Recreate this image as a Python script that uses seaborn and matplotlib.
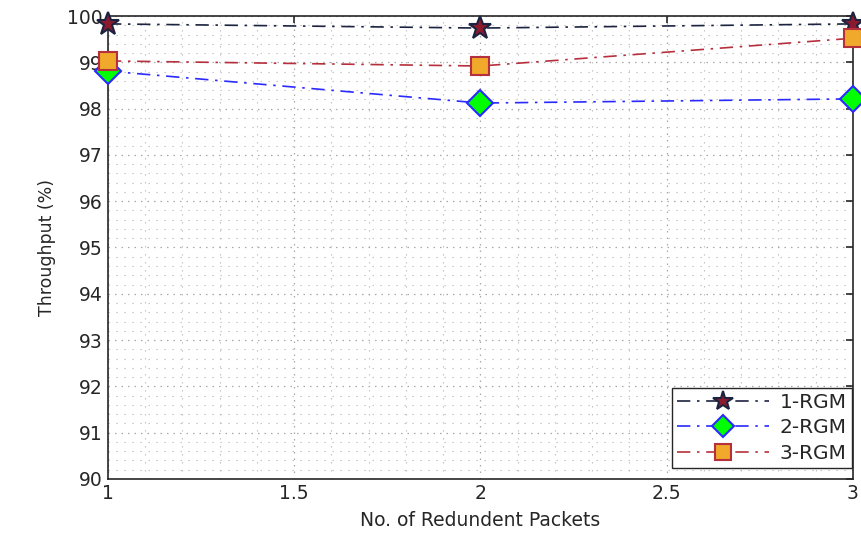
import numpy as np
import pandas as pd
import matplotlib
matplotlib.use("Agg")
import matplotlib.pyplot as plt
import seaborn as sns
from matplotlib.ticker import MultipleLocator

# data
packets = [1, 2, 3]
rgm1 = [99.83, 99.74, 99.83]
rgm2 = [98.81, 98.12, 98.21]
rgm3 = [99.03, 98.92, 99.52]

sns.set_theme(style="white")
plt.rcParams["font.family"] = ["DejaVu Sans"]

df = pd.DataFrame({
    "packets": packets * 3,
    "throughput": rgm1 + rgm2 + rgm3,
    "series": ["1-RGM"] * 3 + ["2-RGM"] * 3 + ["3-RGM"] * 3,
})

styles = {
    "1-RGM": dict(color="#1c2340", marker="*", mfc="#8b1a2e", mec="#1c2340", ms=17),
    "2-RGM": dict(color="#2a2aff", marker="D", mfc="#00ff00", mec="#2a2aff", ms=13),
    "3-RGM": dict(color="#b5303c", marker="s", mfc="#f0a92a", mec="#b5303c", ms=13),
}

fig = plt.figure(figsize=(8.61, 5.43), dpi=100)
ax = fig.add_axes([0.1254, 0.1179, 0.8653, 0.8526])

for name, st in styles.items():
    sub = df[df["series"] == name]
    sns.lineplot(data=sub, x="packets", y="throughput", ax=ax,
                 color=st["color"], linestyle=(0, (8, 4, 1.5, 4)), linewidth=1.2,
                 marker=st["marker"], markersize=st["ms"],
                 markerfacecolor=st["mfc"], markeredgecolor=st["mec"],
                 markeredgewidth=1.5, label=name, clip_on=False, zorder=3)

ax.set_xlim(1, 3)
ax.set_ylim(90, 100)
ax.xaxis.set_minor_locator(MultipleLocator(0.1))
ax.yaxis.set_minor_locator(MultipleLocator(0.2))
ax.set_yticks(np.arange(90, 101, 1))
ax.set_xticks([1, 1.5, 2, 2.5, 3])
ax.set_xticklabels(["1", "1.5", "2", "2.5", "3"])

ax.grid(which="major", linestyle=(0, (1.2, 4)), color="#a8a8a8", linewidth=0.9)
ax.grid(which="minor", linestyle=(0, (1.2, 6)), color="#bdbdbd", linewidth=0.8)
ax.tick_params(which="major", direction="in", length=5, width=1.2,
               top=True, right=True, labelsize=13.5, colors="#262626")
ax.tick_params(which="minor", length=0)
for sp in ax.spines.values():
    sp.set_color("#262626")
    sp.set_linewidth(1.2)

ax.set_xlabel("No. of Redundent Packets", fontsize=13.5, color="#262626", labelpad=6)
ax.set_ylabel("Throughput (%)", fontsize=12.5, color="#262626", labelpad=8)

leg = ax.legend(loc="lower right", bbox_to_anchor=(0.998, 0.024),
                fontsize=14.5, frameon=True, fancybox=False, markerscale=0.85,
                edgecolor="#262626", borderaxespad=0, handlelength=4.6,
                handletextpad=0.5, labelspacing=0.32, borderpad=0.25)
leg.get_frame().set_linewidth(1.0)
leg.get_frame().set_alpha(1)

fig.savefig("out.png", dpi=100)
